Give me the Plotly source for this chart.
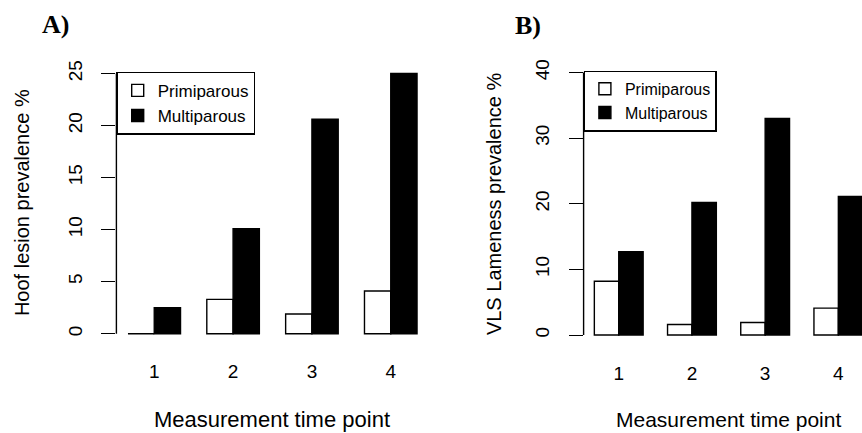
import plotly.graph_objects as go

W, H = 862, 433

time_points = [1, 2, 3, 4]
series_names = ["Primiparous", "Multiparous"]
hoof_primiparous = [0.0, 3.3, 1.9, 4.1]
hoof_multiparous = [2.5, 10.1, 20.6, 25.0]
vls_primiparous = [8.2, 1.6, 1.9, 4.1]
vls_multiparous = [12.7, 20.2, 33.0, 21.1]
hoof_yticks = [0, 5, 10, 15, 20, 25]
vls_yticks = [0, 10, 20, 30, 40]

FONT = "Liberation Sans"
LW = 1.4


def px(x):
    return x / W


def py(y):
    return 1 - y / H


fig = go.Figure()

styles = [dict(color="white", line=dict(color="black", width=LW)),
          dict(color="black", line=dict(color="black", width=LW))]

for name, vals, st in zip(series_names, [hoof_primiparous, hoof_multiparous], styles):
    fig.add_trace(go.Bar(x=time_points, y=vals, name=name, marker=st,
                         xaxis="x", yaxis="y", legend="legend"))
for name, vals, st in zip(series_names, [vls_primiparous, vls_multiparous], styles):
    fig.add_trace(go.Bar(x=time_points, y=vals, name=name, marker=st,
                         xaxis="x2", yaxis="y2", legend="legend2"))

common_y = dict(ticks="outside", ticklen=14, tickwidth=LW, tickcolor="black",
                showline=False, showgrid=False, zeroline=False, tickangle=-90,
                tickfont=dict(family=FONT, size=19, color="black"),
                ticklabelstandoff=12)
common_x = dict(ticks="", showline=False, showgrid=False, zeroline=False,
                tickvals=time_points,
                tickfont=dict(family=FONT, size=19, color="black"),
                ticklabelstandoff=14)


def ann(text, x, y, size, family=FONT, angle=0):
    return dict(text=text, x=px(x), y=py(y), xref="paper", yref="paper",
                xanchor="center", yanchor="middle", textangle=angle,
                showarrow=False, font=dict(family=family, size=size, color="black"))


fig.update_layout(
    width=W, height=H, margin=dict(l=0, r=0, t=0, b=0),
    paper_bgcolor="white", plot_bgcolor="white",
    barmode="group", bargap=1/3, bargroupgap=0,
    xaxis=dict(domain=[px(116.4), px(428.6)], range=[0.52, 4.48], anchor="y", **common_x),
    yaxis=dict(domain=[py(343.5), py(60.5)], range=[-1, 26], tickvals=hoof_yticks,
               anchor="x", **common_y),
    xaxis2=dict(domain=[px(583.6), 1.0], range=[0.52, 4.323], anchor="y2", **common_x),
    yaxis2=dict(domain=[py(344.9), py(59.4)], range=[-1.6, 41.6], tickvals=vls_yticks,
                anchor="x2", **common_y),
    legend=dict(x=px(116.4), y=py(69), xanchor="left", yanchor="top",
                bordercolor="black", borderwidth=1.3, bgcolor="white",
                font=dict(family=FONT, size=17, color="black"), tracegroupgap=0,
                traceorder="normal"),
    legend2=dict(x=px(583.6), y=py(68), xanchor="left", yanchor="top",
                 bordercolor="black", borderwidth=1.3, bgcolor="white",
                 font=dict(family=FONT, size=16, color="black"), tracegroupgap=0,
                 traceorder="normal"),
    shapes=[
        dict(type="line", xref="x domain", yref="y", x0=0, x1=0, y0=0, y1=25,
             line=dict(color="black", width=LW)),
        dict(type="line", xref="x2 domain", yref="y2", x0=0, x1=0, y0=0, y1=40,
             line=dict(color="black", width=LW)),
    ],
    annotations=[
        ann("<b>A)</b>", 55, 22, 26, family="Liberation Serif"),
        ann("<b>B)</b>", 528, 23, 26, family="Liberation Serif"),
        ann("Hoof lesion prevalence %", 21.5, 201, 20, angle=-90),
        ann("VLS Lameness prevalence %", 494, 202.5, 20, angle=-90),
        ann("Measurement time point", 272, 419, 22),
        ann("Measurement time point", 728, 419, 21),
    ],
)

fig.write_html("out.html", config={"displayModeBar": False},
               post_script="document.body.style.margin='0';document.body.style.overflow='hidden';")
